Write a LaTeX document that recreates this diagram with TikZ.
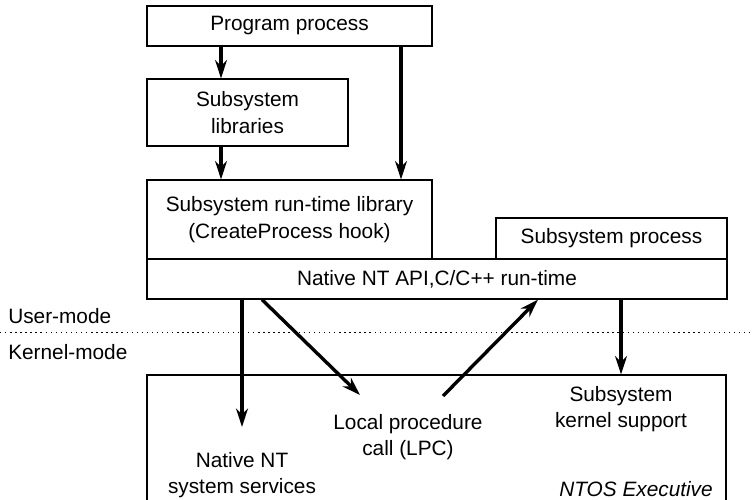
\documentclass[tikz,border=0pt]{standalone}
\usepackage{fontspec}
\setmainfont{Liberation Sans}
\usetikzlibrary{arrows.meta}

\begin{document}
\begin{tikzpicture}[x=0.25mm, y=-0.25mm,
	every node/.style={font=\fontsize{14.8}{19}\selectfont, align=center},
	box/.style={draw, line width=0.9pt, inner sep=0pt},
	txt/.style={inner sep=0pt},
	arr/.style={line width=2.4pt, -{Stealth[length=4.6mm, width=3mm, inset=1.5mm]}}]
\useasboundingbox (0,0) rectangle (752,500);
\node[box, minimum width=71.25mm, minimum height=10mm] (prog) at (289.5,26) {Program process};
\node[box, minimum width=50.25mm, minimum height=16.75mm] (libs) at (247.5,112.5) {Subsystem\\libraries};
\node[box, minimum width=71.25mm, minimum height=19.75mm] (rtl) at (289.5,219.5) {Subsystem run-time library\\(CreateProcess hook)};
\node[box, minimum width=57.75mm, minimum height=10.25mm] (subp) at (611.5,238.5) {Subsystem process};
\node[box, minimum width=145mm, minimum height=10mm] (native) at (437,279) {Native NT API,C/C++ run-time};
\node[box, minimum width=144.75mm, minimum height=35mm] (ntos) at (436.5,445) {};
\node[txt, anchor=west] (user) at (8,316) {User-mode};
\node[txt, anchor=west] (kernel) at (8,352) {Kernel-mode};
\node[txt] (nss) at (242,475) {Native NT\\system services};
\node[txt] (lpc) at (408,437) {Local procedure\\call (LPC)};
\node[txt] (ksup) at (621,409) {Subsystem\\kernel support};
\node[txt, anchor=east] (exec) at (713,489) {\itshape NTOS Executive};
\coordinate (c1) at (221,0);
\coordinate (c2) at (401,0);
\coordinate (c3) at (262,0);
\coordinate (c4) at (538,0);
\coordinate (lpcin) at (360,395);
\coordinate (lpcout) at (443,396);
\coordinate (mleft) at (0,332);
\coordinate (mright) at (752,332);
\draw[line width=0.6pt, dash pattern=on 1pt off 2.6pt] (mleft) -- (mright);
\draw[arr] (prog.south -| c1) -- (libs.north -| c1);
\draw[arr] (libs.south -| c1) -- (rtl.north -| c1);
\draw[arr] (prog.south -| c2) -- (rtl.north -| c2);
\draw[arr] (native.south -| nss) -- ([yshift=6.2mm]nss.north);
\draw[arr] (native.south -| c3) -- (lpcin);
\draw[arr] (lpcout) -- (native.south -| c4);
\draw[arr] (native.south -| ksup) -- (ntos.north -| ksup);
\end{tikzpicture}
\end{document}
